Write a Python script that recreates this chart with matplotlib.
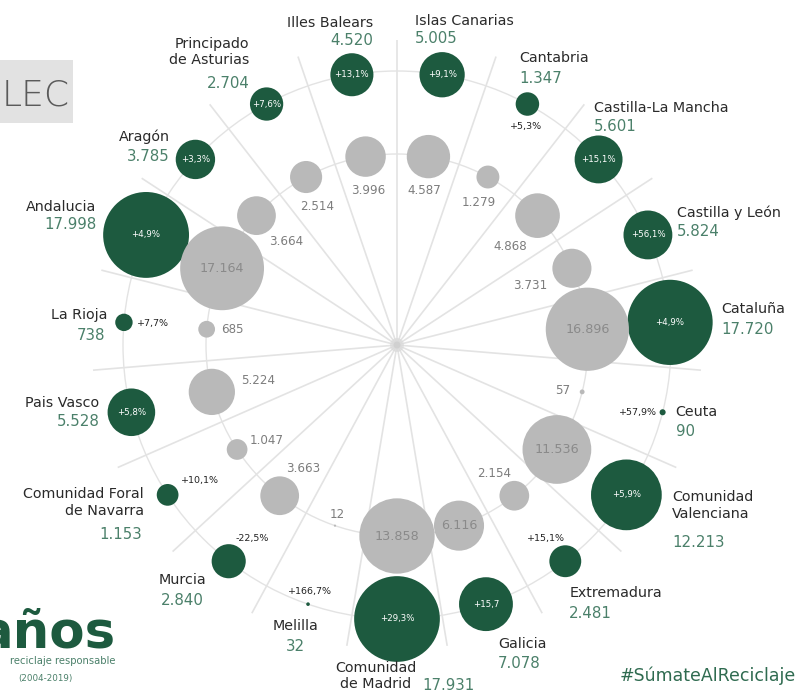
import numpy as np
import matplotlib
matplotlib.use("Agg")
import matplotlib.pyplot as plt
from matplotlib.patches import Circle, Rectangle

# ---------------- data ----------------
regions = ['Islas Canarias', 'Cantabria', 'Castilla-La Mancha', 'Castilla y León',
           'Cataluña', 'Ceuta', 'Comunidad\nValenciana', 'Extremadura', 'Galicia',
           'Comunidad\nde Madrid', 'Melilla', 'Murcia', 'Comunidad Foral\nde Navarra',
           'Pais Vasco', 'La Rioja', 'Andalucia', 'Aragón', 'Principado\nde Asturias',
           'Illes Balears']
values_2019 = [5005, 1347, 5601, 5824, 17720, 90, 12213, 2481, 7078, 17931,
               32, 2840, 1153, 5528, 738, 17998, 3785, 2704, 4520]
values_prev = [4587, 1279, 4868, 3731, 16896, 57, 11536, 2154, 6116, 13858,
               12, 3663, 1047, 5224, 685, 17164, 3664, 2514, 3996]
pct_labels = ['+9,1%', '+5,3%', '+15,1%', '+56,1%', '+4,9%', '+57,9%', '+5,9%',
              '+15,1%', '+15,7', '+29,3%', '+166,7%', '-22,5%', '+10,1%', '+5,8%',
              '+7,7%', '+4,9%', '+3,3%', '+7,6%', '+13,1%']

# ---------------- layout / style ----------------
W, H = 798, 695
CX, CY = 397, 345
R_OUT, R_IN, R_SPOKE = 274, 191, 305
K = 0.32  # bubble radius (px) per sqrt(value)

GREEN = '#1d5a3f'
GREEN_TXT = '#4b806a'
GRAY_BUB = '#b9b9b9'
GRAY_TXT = '#7d7d7d'
NAME_COL = '#2a2a2a'
LINE = '#e3e3e3'
FONT = 'DejaVu Sans'

# name label offsets (dx, dy, ha) and value offsets (dx, dy, ha) from green bubble
name_off = [(-27, -54, 'left'), (-8, -46, 'left'), (-5, -51, 'left'), (29, -22, 'left'),
            (51, -13, 'left'), (13, 0, 'left'), (46, 11, 'left'), (4, 32, 'left'),
            (12, 40, 'left'), (-21, 57, 'center'), (-13, 22, 'center'), (-46, 19, 'center'),
            (-24, 8, 'right'), (-32, -9, 'right'), (-17, -7, 'right'), (-50, -28, 'right'),
            (-26, -23, 'right'), (-17, -52, 'right'), (21, -52, 'right')]
val_off = [(-27, -36, 'left'), (-8, -26, 'left'), (-5, -33, 'left'), (29, -3, 'left'),
           (51, 7, 'left'), (13, 19, 'left'), (46, 48, 'left'), (4, 52, 'left'),
           (12, 59, 'left'), (25, 67, 'left'), (-13, 42, 'center'), (-46, 39, 'center'),
           (-26, 40, 'right'), (-32, 9, 'right'), (-19, 13, 'right'), (-50, -10, 'right'),
           (-26, -3, 'right'), (-17, -21, 'right'), (21, -34, 'right')]
# outside percentage labels (None -> drawn inside the bubble)
pct_off = [None, (-1, 22, 'center'), None, None, None, (-6, 0, 'right'), None,
           (-19, -23, 'center'), None, None, (2, -13, 'center'), (24, -23, 'center'),
           (13, -14, 'left'), None, (13, 1, 'left'), None, None, None, None]
# gray labels (None -> inside the bubble)
prev_off = [(-4, 34), (-9, 25), (-27, 31), (-42, 17), None, (-19, -1), None,
            (-20, -22), None, None, (2, -11), (24, -27), (30, -9), (46, -11), (26, 0),
            None, (30, 26), (11, 29), (3, 34)]


def fmt(v):
    return f"{v:,}".replace(',', '.')


n = len(regions)
step = 360.0 / n
angles = np.deg2rad(step / 2 + step * np.arange(n))

fig = plt.figure(figsize=(W / 100, H / 100), dpi=100)
ax = fig.add_axes([0, 0, 1, 1])
ax.set_xlim(0, W)
ax.set_ylim(H, 0)
ax.set_aspect('equal')
ax.axis('off')

# spokes
for k in range(n):
    a = np.deg2rad(step * k)
    ax.plot([CX, CX + R_SPOKE * np.sin(a)], [CY, CY - R_SPOKE * np.cos(a)],
            color=LINE, lw=1.2, zorder=0, solid_capstyle='butt')
# rings
ax.add_patch(Circle((CX, CY), R_OUT, fill=False, ec=LINE, lw=1.0, zorder=0))
ax.add_patch(Circle((CX, CY), R_IN, fill=False, ec=LINE, lw=1.0, zorder=0))
ax.add_patch(Circle((CX, CY), 7, color='#d5d5d5', alpha=0.5, lw=0, zorder=1))
ax.add_patch(Circle((CX, CY), 3.5, color='#cccccc', alpha=0.7, lw=0, zorder=1))

for i in range(n):
    a = angles[i]
    gx, gy = CX + R_OUT * np.sin(a), CY - R_OUT * np.cos(a)
    px, py = CX + R_IN * np.sin(a), CY - R_IN * np.cos(a)
    rg = K * np.sqrt(values_2019[i])
    rp = K * np.sqrt(values_prev[i])
    ax.add_patch(Circle((gx, gy), rg, color=GREEN, lw=0, zorder=3))
    ax.add_patch(Circle((px, py), rp, color=GRAY_BUB, lw=0, zorder=3))

    # region name + value
    dx, dy, ha = name_off[i]
    ax.text(gx + dx, gy + dy, regions[i], ha=ha, va='center', multialignment=ha,
            fontsize=10.3, color=NAME_COL, family=FONT, linespacing=1.25, zorder=5)
    dx, dy, ha = val_off[i]
    ax.text(gx + dx, gy + dy, fmt(values_2019[i]), ha=ha, va='center',
            fontsize=10.8, color=GREEN_TXT, family=FONT, zorder=5)

    # percentage change
    if pct_off[i] is None:
        ax.text(gx, gy, pct_labels[i], ha='center', va='center', fontsize=6.2,
                color='white', family=FONT, zorder=5)
    else:
        dx, dy, ha = pct_off[i]
        ax.text(gx + dx, gy + dy, pct_labels[i], ha=ha, va='center', fontsize=6.8,
                color='#222222', family=FONT, zorder=5)

    # previous value
    if prev_off[i] is None:
        ax.text(px, py, fmt(values_prev[i]), ha='center', va='center', fontsize=9.2,
                color='#8a8a8a', family=FONT, zorder=5)
    else:
        dx, dy = prev_off[i]
        ax.text(px + dx, py + dy, fmt(values_prev[i]), ha='center', va='center',
                fontsize=8.6, color=GRAY_TXT, family=FONT, zorder=5)

# logo fragments
ax.add_patch(Rectangle((0, 60), 73, 63, color='#e2e2e2', lw=0, zorder=1))
ax.text(2, 96, 'LEC', ha='left', va='center', fontsize=26, color='#5a5a5a',
        family=FONT, fontweight='light', zorder=2)
ax.text(116, 648, 'años', ha='right', va='baseline', fontsize=37, color=GREEN,
        family=FONT, fontweight='bold', zorder=2)
ax.text(116, 661, 'reciclaje responsable', ha='right', va='center', fontsize=7.2,
        color=GREEN_TXT, family=FONT, zorder=2)
ax.text(45, 678, '(2004-2019)', ha='center', va='center', fontsize=6.3,
        color=GREEN_TXT, family=FONT, zorder=2)
ax.text(796, 676, '#SúmateAlReciclaje', ha='right', va='center', fontsize=12.5,
        color='#2f6b50', family=FONT, zorder=2)

fig.savefig('out.png', dpi=100, facecolor='white')
